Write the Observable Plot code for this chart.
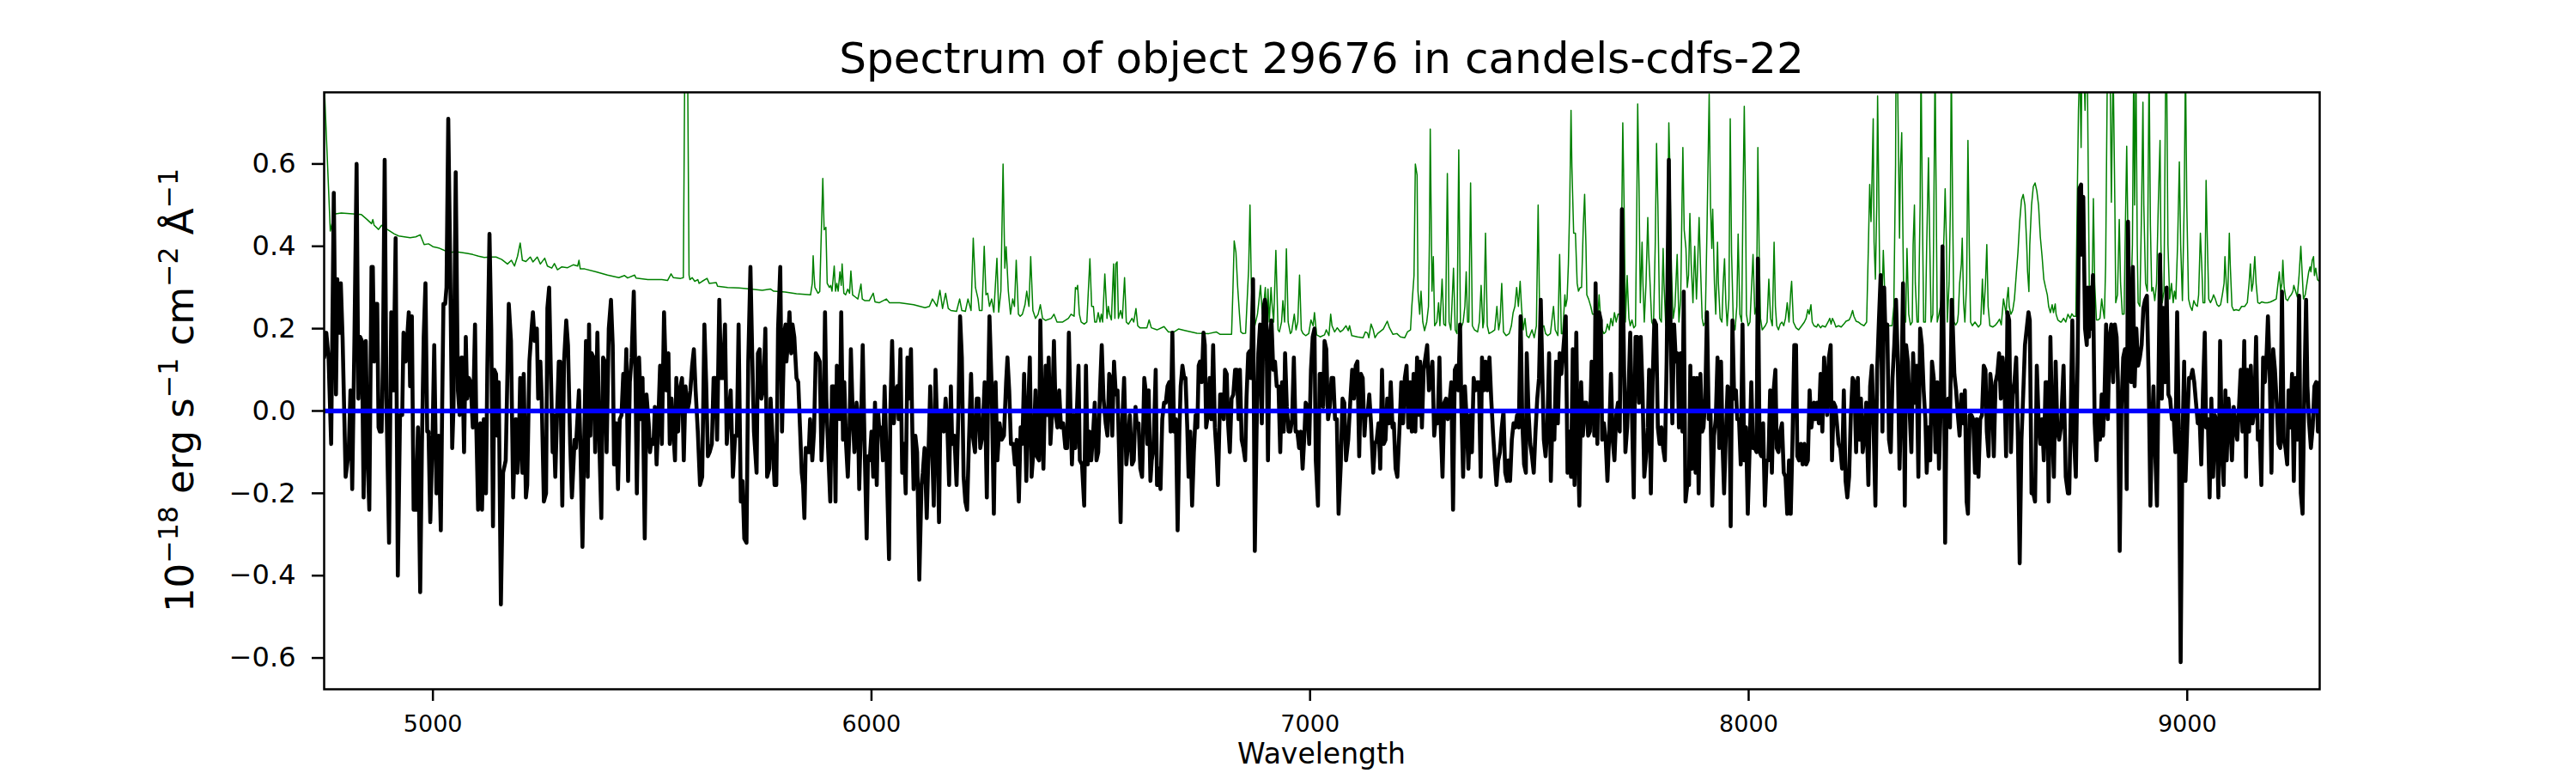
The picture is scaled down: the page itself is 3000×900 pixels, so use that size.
<!DOCTYPE html>
<html><head><meta charset="utf-8">
<script src="https://cdn.jsdelivr.net/npm/d3@7"></script>
<script src="https://cdn.jsdelivr.net/npm/@observablehq/plot@0.6"></script>
<style>html,body{margin:0;padding:0;background:#fff;} #chart{width:3000px;height:900px;}</style>
</head><body><div id="chart"></div>
<script>
// Observed flux (black), [wavelength, flux]
const fluxSpectrum = [
[4752,.13],[4757,.19],[4762,.13],[4768,-.08],[4774,.53],[4777,.22],[4779,.04],[4782,.32],[4786,.19],[4790,.31],
[4794,.18],[4801,-.16],[4808,-.10],[4812,.05],[4816,-.19],[4821,.17],[4826,.60],[4830,.03],[4834,.18],[4838,.17],
[4842,-.21],[4847,.17],[4851,-.11],[4855,-.24],[4860,.35],[4863,.35],[4866,.12],[4870,.26],[4873,.26],[4876,-.04],
[4879,-.05],[4883,-.05],[4886,.12],[4890,.61],[4894,.03],[4900,-.32],[4905,.24],[4910,.05],[4915,.42],[4920,-.40],
[4925,-.01],[4930,-.01],[4933,.19],[4938,.12],[4945,.24],[4948,.06],[4952,.23],[4956,-.24],[4961,-.24],[4966,-.04],
[4971,-.44],[4975,-.08],[4979,.18],[4983,.31],[4987,-.05],[4990,-.05],[4994,-.27],[4999,-.07],[5003,.16],[5008,-.20],
[5013,-.06],[5018,-.29],[5021,.00],[5024,.26],[5028,.26],[5031,.30],[5035,.71],[5039,.39],[5044,-.09],[5047,.01],
[5052,.58],[5057,.05],[5061,-.01],[5065,.13],[5067,.13],[5071,-.10],[5075,.18],[5078,.03],[5082,.08],[5086,.07],
[5091,-.04],[5096,.21],[5099,-.04],[5103,-.24],[5108,-.03],[5112,-.24],[5116,-.02],[5121,-.20],[5124,.10],[5129,.43],
[5133,.20],[5137,-.28],[5140,.10],[5144,.09],[5147,-.06],[5150,.07],[5155,-.47],[5160,-.15],[5166,-.12],[5173,.26],
[5178,.17],[5183,-.21],[5187,-.07],[5189,-.02],[5193,-.15],[5196,-.08],[5199,.08],[5204,-.15],[5207,.09],[5212,-.21],
[5215,-.18],[5220,.12],[5225,.20],[5228,.24],[5232,.17],[5237,.20],[5240,.03],[5245,.12],[5248,.03],[5253,-.22],
[5258,-.20],[5261,.25],[5265,.30],[5269,.09],[5273,-.10],[5275,-.01],[5279,-.16],[5283,-.01],[5287,.12],[5290,.12],
[5295,-.23],[5299,.12],[5304,.22],[5308,.16],[5313,-.08],[5317,-.21],[5323,-.07],
[5326,-.09],[5333,.05],[5336,-.07],[5341,-.33],[5345,-.07],[5349,.17],[5353,-.16],[5356,.21],[5359,-.06],[5362,.14],
[5366,.13],[5370,-.10],[5375,.19],[5380,-.10],[5384,-.26],[5388,.13],[5392,.12],[5396,-.10],[5401,.20],[5406,.27],
[5410,.16],[5413,-.13],[5418,-.03],[5422,-.19],[5426,-.02],[5430,-.01],[5434,.09],[5437,.00],[5441,.15],[5445,-.17],
[5449,.07],[5453,.13],[5458,.29],[5462,.07],[5465,-.20],[5470,.13],[5475,-.02],[5478,.08],[5483,-.31],[5487,.04],
[5492,-.03],[5495,-.10],[5498,-.07],[5503,-.08],[5506,.01],[5510,-.13],[5514,-.02],[5518,.11],[5522,-.08],[5527,.24],
[5532,.05],[5537,.14],[5540,-.08],[5544,.03],[5547,-.03],[5552,-.12],[5555,.08],[5559,-.05],[5563,.05],[5568,.08],
[5572,-.12],[5576,.06],[5580,.00],[5584,.02],[5587,.05],[5591,.11],[5595,.15],[5599,.05],[5604,-.05],[5609,-.18],
[5614,-.16],[5619,.21],[5623,.07],[5627,-.11],[5631,-.10],[5636,-.08],[5640,.08],[5644,.08],[5648,-.07],[5653,.27],
[5657,.08],[5661,.08],[5666,.21],[5670,-.08],[5674,-.01],[5679,.05],[5684,-.16],[5689,-.06],[5693,-.06],[5697,.21],
[5702,-.22],[5706,-.17],[5710,-.31],[5715,-.32],[5719,.12],[5724,.35],[5728,.14],[5732,-.05],[5738,-.15],[5741,.14],
[5745,.15],[5749,.03],[5754,.06],[5758,.20],[5762,-.16],[5767,-.14],[5770,.03],[5775,-.08],[5779,-.18],[5783,-.18],
[5787,.20],[5792,.35],[5796,-.05],[5801,.19],[5804,.21],[5806,.12],[5809,.16],[5813,.24],[5817,.14],[5820,.21],
[5824,.18],[5829,.08],[5833,.07],[5837,-.04],[5841,-.15],[5844,-.18],[5847,-.26],[5850,-.09],[5854,-.10],[5857,-.10],
[5860,-.02],[5865,-.12],[5869,-.05],[5873,.14],
[5878,.13],[5882,.12],[5886,-.12],[5891,.00],[5894,.24],[5897,.03],[5901,-.09],[5906,-.22],[5910,.06],[5914,.06],
[5918,-.22],[5921,.11],[5925,.08],[5928,-.02],[5931,.24],[5935,-.07],[5938,.07],[5942,-.08],[5946,-.16],[5950,-.04],
[5953,.15],[5957,.00],[5961,-.10],[5966,.02],[5969,-.01],[5972,-.19],[5977,.01],[5980,.16],[5984,-.07],[5989,-.31],
[5992,-.11],[5996,-.12],[6000,-.05],[6004,-.16],[6008,.02],[6012,-.18],[6015,.00],[6018,-.05],[6022,-.04],[6026,-.12],
[6030,.06],[6034,-.10],[6040,-.36],[6043,.00],[6047,.17],[6051,-.03],[6055,.05],[6059,.06],[6062,-.02],[6066,.15],
[6070,-.15],[6074,-.08],[6078,-.20],[6082,.13],[6085,.03],[6090,.15],[6093,-.04],[6096,-.19],[6100,-.06],[6104,-.10],
[6109,-.41],[6114,-.18],[6117,-.15],[6121,-.09],[6126,-.26],[6130,-.10],[6134,.06],[6138,-.08],[6142,-.23],[6146,.10],
[6150,-.05],[6154,-.27],[6157,-.01],[6160,.00],[6165,-.05],[6169,.03],[6173,-.04],[6177,-.18],[6181,.06],[6184,-.08],
[6189,-.06],[6194,-.18],[6198,-.01],[6202,.23],[6206,.13],[6210,-.16],[6214,-.22],[6218,-.24],[6222,-.08],[6227,.09],
[6231,-.06],[6236,-.10],[6240,.03],[6244,.03],[6248,-.09],[6253,-.06],[6258,.07],[6263,-.21],[6266,.05],[6269,.23],
[6274,.06],[6279,-.25],[6283,.07],[6287,-.12],[6292,-.03],[6297,-.07],[6302,-.06],[6307,.07],[6310,.13],[6314,.05],
[6318,-.08],[6323,-.08],[6327,-.13],[6331,-.07],[6336,-.22],[6340,-.04],[6344,-.08],[6348,.09],[6353,-.17],[6357,.00],
[6361,.13],[6365,-.16],[6369,-.10],[6374,.05],[6377,-.11],[6382,-.12],[6385,.22],[6389,-.02],[6392,-.14],[6397,.11],
[6401,-.01],[6404,.13],[6408,-.08],[6412,.00],[6416,.17],[6420,-.01],[6424,-.04],[6428,.05],[6432,-.04],[6437,-.03],
[6442,-.09],
[6446,-.09],[6450,.19],[6454,-.01],[6457,-.13],[6461,-.01],[6465,-.09],[6468,-.01],[6472,.11],[6475,-.12],[6480,-.13],
[6485,-.23],[6489,.11],[6493,-.13],[6497,-.05],[6501,-.12],[6505,-.06],[6509,.02],[6513,-.12],[6517,-.10],[6521,.05],
[6525,.16],[6529,.03],[6534,-.03],[6538,-.06],[6542,.09],[6545,.08],[6549,-.06],[6553,.12],[6557,.04],[6561,.05],
[6564,-.08],[6568,-.27],[6572,-.02],[6576,.08],[6581,-.13],[6585,-.08],[6589,-.01],[6594,-.13],[6598,-.12],[6602,.01],
[6605,-.04],[6609,-.03],[6613,-.14],[6617,-.16],[6622,.08],[6625,.05],[6629,-.08],[6632,.05],[6636,-.17],[6639,-.12],
[6643,-.09],[6648,.10],[6651,-.18],[6655,-.14],[6659,-.19],[6663,-.02],[6667,.02],[6671,.02],[6675,.06],[6679,.07],
[6682,-.05],[6686,.19],[6690,-.05],[6694,-.02],[6698,-.29],[6702,-.05],[6705,.06],[6709,.11],[6713,.08],[6716,.08],
[6720,-.04],[6723,-.16],[6727,-.05],[6731,-.23],[6735,-.10],[6739,-.01],[6743,-.04],[6746,.11],[6749,.12],[6753,.07],
[6757,.19],[6760,.16],[6763,-.04],[6767,-.01],[6771,.08],[6775,-.02],[6779,.16],[6783,-.04],[6787,-.11],[6790,-.18],
[6795,.04],[6799,.04],[6803,-.02],[6806,.10],[6810,.09],[6813,-.03],[6817,-.10],[6821,.03],[6825,.04],[6829,.10],
[6833,.10],[6837,-.02],[6840,.10],[6844,-.07],[6848,-.09],[6852,-.12],[6855,.03],[6859,.14],[6862,.145],[6865,.08],
[6870,.32],[6874,-.34],[6878,-.05],[6882,.14],[6886,.21],[6890,-.03],[6894,.25],[6897,.27],[6900,.25],[6904,-.12],
[6908,.18],[6912,.22],[6916,.10],[6920,.12],[6924,.06],[6928,.06],[6932,-.10],[6936,.07],[6940,-.05],[6943,.14],
[6947,.01],[6951,-.05],[6955,-.05],[6959,-.02],[6963,.13],[6967,-.05],[6971,-.05],[6975,-.09],[6979,-.05],[6983,-.14],
[6987,-.06],[6990,.02],[6994,.01],[6998,-.08],[7002,.10],[7006,.18],[7010,.20],
[7013,-.12],[7018,-.23],[7022,.09],[7026,.09],[7030,.01],[7033,.17],[7037,.15],[7041,-.02],[7045,.01],[7049,.08],
[7053,.08],[7057,-.02],[7061,-.02],[7065,-.25],[7070,-.13],[7074,.03],[7078,.02],[7082,-.12],[7087,-.07],[7092,.03],
[7096,.10],[7100,.03],[7104,.11],[7108,.12],[7112,-.11],[7116,.09],[7120,.08],[7124,-.06],[7127,-.005],[7131,-.01],
[7135,.04],[7139,-.03],[7144,-.15],[7148,-.08],[7152,-.07],[7156,-.03],[7160,-.14],[7164,.10],[7168,-.08],[7172,-.07],
[7176,.03],[7180,-.03],[7184,.07],[7188,-.04],[7191,-.03],[7195,-.14],[7199,-.16],[7204,-.04],[7208,.07],[7212,-.03],
[7216,.08],[7220,.11],[7224,-.04],[7228,.07],[7232,-.05],[7236,.09],[7240,-.05],[7244,.13],[7248,-.01],[7251,.12],
[7255,-.04],[7259,.10],[7263,.13],[7267,.16],[7271,.05],[7275,.08],[7279,.12],[7283,-.06],[7287,-.01],[7291,-.03],
[7295,.13],[7298,-.04],[7302,-.16],[7306,.02],[7310,.03],[7314,-.02],[7318,.02],[7322,.07],[7326,-.24],[7330,.10],
[7334,.11],[7338,.05],[7342,.21],[7345,.01],[7349,-.16],[7353,.06],[7357,-.02],[7361,-.14],[7365,-.01],[7369,-.10],
[7373,.08],[7377,.05],[7381,.07],[7385,.07],[7389,-.16],[7392,.13],[7396,.05],[7400,.12],[7404,.05],[7409,.13],
[7413,.03],[7417,-.05],[7421,-.12],[7425,-.18],[7429,-.12],[7433,-.10],[7437,-.04],[7441,.00],[7445,-.15],[7449,-.17],
[7452,-.12],[7456,-.17],[7460,-.07],[7464,-.03],[7468,-.04],[7472,-.01],[7476,-.04],[7480,.23],[7484,-.03],[7488,-.13],
[7492,-.15],[7494,.14],[7498,.00],[7502,-.08],[7506,-.11],[7510,-.15],[7514,-.05],[7518,.03],[7522,.08],[7526,.27],
[7529,.12],[7533,-.07],[7537,-.11],[7541,-.04],[7545,.14],[7549,-.17],[7553,.00],[7557,-.07],[7561,.12],[7565,-.03],
[7569,.14],[7573,.09],[7576,.13],
[7583,.23],[7587,-.15],[7591,-.05],[7595,-.16],[7599,.15],[7603,-.18],[7607,.19],[7610,-.05],[7614,-.23],[7618,.07],
[7622,-.06],[7626,.02],[7630,.02],[7634,-.06],[7638,-.05],[7642,.12],[7646,.03],[7648,-.06],[7651,.31],[7655,-.08],
[7659,.24],[7663,.22],[7666,-.07],[7670,-.03],[7674,-.07],[7678,-.17],[7682,-.06],[7686,.09],[7690,-.07],[7694,-.12],
[7698,-.01],[7702,.02],[7706,-.05],[7711,.49],[7715,.17],[7719,-.10],[7723,-.04],[7727,.08],[7730,.19],[7734,-.01],
[7738,-.21],[7742,.18],[7746,.18],[7750,.02],[7754,.18],[7758,.05],[7762,-.16],[7766,-.11],[7770,-.04],[7773,.10],
[7777,-.20],[7781,.07],[7785,.22],[7789,.21],[7793,-.04],[7797,-.08],[7801,-.04],[7805,-.09],[7809,-.12],[7813,.12],
[7818,.61],[7822,.20],[7826,-.03],[7830,.21],[7834,.12],[7838,.14],[7841,-.04],[7845,.14],[7849,-.05],[7852,.29],
[7856,-.22],[7860,-.18],[7864,-.18],[7867,.11],[7871,-.14],[7875,.08],[7879,-.15],[7882,.08],[7886,-.20],[7890,.09],
[7894,-.05],[7897,-.04],[7901,.03],[7905,.24],[7909,-.02],[7913,.00],[7917,-.23],[7921,-.06],[7925,-.02],[7929,.13],
[7933,-.09],[7937,.12],[7941,-.10],[7944,-.20],[7948,-.06],[7952,.06],[7956,.05],[7959,-.28],[7963,.22],[7967,.03],
[7971,.05],[7974,-.02],[7978,-.02],[7982,-.13],[7986,.21],[7990,-.12],[7994,-.04],[7998,-.25],[8002,-.10],[8006,.07],
[8010,-.09],[8014,-.09],[8018,-.10],[8021,.37],[8025,-.10],[8029,-.11],[8033,-.03],[8037,-.23],[8041,-.12],[8045,-.12],
[8049,.05],[8053,-.15],[8057,.05],[8061,.10],[8064,-.09],[8068,-.10],[8072,-.05],[8076,-.03],[8080,-.15],[8084,-.16],
[8088,-.25],[8092,-.12],[8096,-.25],[8100,-.07],[8104,.16],[8108,.16],[8111,-.11],[8115,-.12],[8119,-.08],[8123,-.13],
[8127,-.08],[8131,-.13],[8135,-.12],[8139,.05],[8143,-.04],
[8149,.02],[8152,-.02],[8156,.02],[8160,-.03],[8164,.09],[8168,-.05],[8172,.13],[8175,.08],[8179,-.01],[8183,.13],
[8187,.16],[8190,-.12],[8194,.02],[8198,.01],[8202,-.04],[8205,-.08],[8209,-.09],[8213,-.14],[8217,.05],[8221,-.17],
[8225,-.21],[8229,-.16],[8233,-.01],[8237,.08],[8241,.07],[8245,-.10],[8249,.08],[8252,-.07],[8256,.03],[8260,-.10],
[8264,-.06],[8268,.02],[8273,-.18],[8277,.06],[8281,.11],[8285,-.05],[8289,-.23],[8293,.10],[8297,.22],[8301,.33],
[8305,-.05],[8309,.30],[8312,.18],[8316,.21],[8320,-.07],[8324,-.10],[8328,.08],[8332,.16],[8336,.27],[8340,.12],
[8344,-.14],[8348,.03],[8352,.31],[8356,-.23],[8359,.16],[8363,.12],[8367,.00],[8371,-.10],[8375,.14],[8379,.02],
[8383,.11],[8387,-.16],[8391,.20],[8395,.16],[8399,.05],[8403,-.02],[8406,-.15],[8410,-.04],[8414,-.12],[8418,.12],
[8422,.08],[8426,-.10],[8430,.07],[8434,-.14],[8438,.01],[8442,.40],[8446,.04],[8448,-.32],[8451,-.01],[8455,.03],
[8459,-.04],[8463,.27],[8465,.22],[8469,.09],[8473,.05],[8477,-.01],[8481,-.06],[8485,.04],[8489,-.03],[8493,.05],
[8497,-.22],[8500,-.25],[8504,-.01],[8508,-.01],[8512,-.02],[8516,-.15],[8520,-.02],[8524,-.16],[8528,-.02],[8532,-.01],
[8536,.11],[8540,.10],[8543,-.05],[8547,-.11],[8551,.09],[8555,.05],[8559,-.11],[8563,.07],[8567,.09],[8571,.14],
[8575,.03],[8579,.13],[8583,.08],[8587,-.11],[8590,.24],[8594,.22],[8598,-.10],[8602,.04],[8606,.07],[8610,.13],
[8614,-.07],[8618,-.37],[8622,-.07],[8626,.04],[8630,.16],[8634,.20],[8638,.24],[8641,.22],[8645,-.20],[8649,-.20],
[8653,-.22],[8657,.11],[8661,-.02],[8665,-.08],[8669,-.02],[8673,-.12],[8677,.07],[8681,.07],[8684,-.22],[8688,.18],
[8692,-.04],[8696,-.16],[8700,.12],[8704,-.05],[8708,-.07],[8712,-.04],
[8718,.11],[8723,-.16],[8728,-.20],[8731,-.20],[8735,.03],[8738,.22],[8742,-.07],[8746,-.16],[8750,.12],[8754,.54],
[8758,.55],[8760,.38],[8763,.52],[8767,.20],[8771,.16],[8773,.30],[8776,.18],[8779,.30],[8781,.20],[8785,.33],
[8789,-.03],[8793,-.12],[8797,.00],[8801,-.07],[8805,.04],[8808,-.06],[8811,.02],[8815,.21],[8819,-.02],[8823,.18],
[8827,.21],[8831,.07],[8835,.21],[8839,.18],[8842,.07],[8846,-.34],[8850,.01],[8854,.13],[8858,.15],[8862,-.19],
[8865,.46],[8869,.12],[8872,.07],[8876,.35],[8880,.06],[8884,.20],[8888,.11],[8892,.13],[8896,.16],[8900,.25],
[8904,.27],[8908,.28],[8912,.08],[8916,-.23],[8919,-.07],[8923,.06],[8927,-.10],[8931,-.23],[8935,.12],[8938,.38],
[8942,.03],[8946,.25],[8949,.07],[8953,.30],[8957,.04],[8961,.03],[8965,-.02],[8969,-.01],[8973,-.10],[8977,.24],
[8981,-.07],[8985,-.61],[8989,-.08],[8993,.12],[8996,-.17],[9000,-.04],[9004,.08],[9008,.08],[9012,.10],[9016,.07],
[9020,.02],[9024,-.03],[9028,-.01],[9032,-.13],[9036,.05],[9040,.19],[9043,-.04],[9047,-.02],[9051,-.21],[9055,.03],
[9059,-.16],[9063,-.01],[9067,-.03],[9071,-.21],[9075,.17],[9079,-.09],[9083,-.18],[9087,.05],[9090,-.12],[9094,.03],
[9098,-.03],[9102,-.12],[9106,.01],[9110,-.04],[9114,-.07],[9118,.01],[9122,.10],[9126,-.05],[9130,.17],[9134,-.16],
[9137,.10],[9141,-.05],[9145,.11],[9149,-.03],[9153,.00],[9157,.18],[9161,-.07],[9165,-.05],[9169,-.18],[9173,.13],
[9177,.07],[9181,.14],[9184,.23],[9188,.10],[9192,-.15],[9196,.15],[9200,.10],[9204,.02],[9208,-.08],[9212,-.09],
[9216,.29],[9220,-.07],[9224,-.09],[9228,-.13],[9231,.05],[9235,-.04],[9239,.09],[9243,-.17],[9247,.08],[9251,-.07],
[9255,.28],[9259,-.20],[9263,-.25],[9267,.05],[9271,.27],[9274,.06],[9278,-.03],[9282,-.09],[9286,-.04],[9290,.06],
[9294,.07],[9298,-.05],[9302,.07]
];

// Noise / error spectrum (green), [wavelength, sigma]
const errorSpectrum = [
[4752,.80],[4766,.437],[4773,.47],[4778,.479],[4791,.481],[4817,.479],[4837,.477],[4850,.465],[4860,.455],[4863,.465],
[4866,.451],[4876,.441],[4883,.451],[4896,.441],[4912,.43],[4922,.425],[4935,.423],[4948,.421],[4961,.423],[4971,.428],
[4980,.404],[4990,.406],[5000,.399],[5013,.396],[5026,.39],[5039,.385],[5052,.387],[5065,.385],[5078,.383],[5091,.38],
[5104,.376],[5117,.373],[5131,.374],[5144,.374],[5157,.368],[5170,.357],[5179,.366],[5186,.352],[5193,.376],[5199,.408],
[5204,.366],[5212,.363],[5222,.374],[5228,.362],[5238,.374],[5245,.357],[5255,.371],[5261,.352],[5271,.347],[5277,.358],
[5284,.343],[5294,.35],[5307,.348],
[5320,.355],[5330,.352],[5333,.366],[5336,.345],[5346,.345],[5372,.338],[5398,.33],[5424,.324],[5437,.329],[5444,.323],
[5460,.330],[5463,.323],[5490,.319],[5522,.319],[5535,.317],[5543,.333],[5548,.324],[5565,.322],[5571,.324],[5574,.80],
[5576,1.2],[5578,1.2],[5581,.80],[5584,.33],[5586,.319],[5591,.324],[5597,.315],[5604,.319],[5607,.310],[5614,.315],
[5625,.322],[5630,.31],[5646,.312],[5649,.303],[5672,.30],[5698,.299],[5724,.296],[5751,.293],[5770,.296],[5777,.291],
[5803,.289],[5829,.285],[5861,.282],[5865,.31],[5867,.377],[5869,.33],[5871,.30],[5878,.286],[5882,.29],[5886,.45],
[5889,.565],[5892,.44],
[5896,.446],[5899,.31],[5904,.300],[5907,.305],[5910,.291],[5915,.352],[5918,.291],[5921,.31],[5924,.291],[5928,.338],
[5931,.305],[5933,.357],[5937,.286],[5941,.282],[5946,.296],[5950,.286],[5953,.34],[5957,.282],[5963,.277],[5969,.272],
[5976,.308],[5979,.272],[5985,.268],[5995,.268],[6004,.286],[6008,.265],[6018,.263],[6034,.272],[6041,.263],[6064,.263],
[6096,.258],[6122,.251],[6132,.254],[6139,.272],[6143,.265],[6149,.254],[6156,.293],[6162,.249],[6169,.286],[6175,.249],
[6181,.244],[6194,.242],[6201,.272],[6206,.244],[6214,.242],[6220,.272],[6227,.244],[6232,.42],[6237,.30],[6243,.272],
[6246,.244],[6252,.244],[6257,.40],[6261,.282],[6265,.286],[6269,.254],[6274,.272],[6279,.24],[6286,.371],[6290,.24],
[6295,.291],[6300,.60],[6304,.347],[6307,.399],[6312,.291],[6317,.235],[6322,.272],[6326,.254],[6330,.366],[6335,.235],
[6339,.23],[6344,.235],[6350,.258],[6354,.291],[6359,.254],[6363,.375],[6368,.244],[6374,.225],[6380,.235],[6385,.258],
[6390,.225],[6397,.22],[6410,.225],[6416,.235],[6423,.216],[6436,.216],[6449,.225],
[6455,.235],[6462,.23],[6465,.30],[6468,.296],[6470,.305],[6474,.235],[6478,.216],[6485,.211],[6491,.216],[6498,.37],
[6502,.254],[6506,.254],[6509,.216],[6513,.216],[6517,.239],[6521,.216],[6524,.235],[6527,.216],[6532,.333],[6537,.225],
[6540,.254],[6543,.235],[6547,.221],[6552,.357],[6555,.225],[6557,.357],[6560,.362],[6563,.225],[6568,.244],[6572,.225],
[6577,.324],[6581,.216],[6586,.211],[6594,.225],[6598,.216],[6603,.249],[6607,.207],[6612,.202],[6628,.202],[6633,.221],
[6638,.202],[6651,.197],[6667,.205],[6677,.192],[6690,.192],[6700,.199],[6716,.195],[6729,.192],[6742,.189],[6769,.188],
[6786,.192],[6795,.186],[6821,.186],[6824,.291],[6827,.413],[6831,.385],[6835,.30],[6839,.235],[6842,.192],[6847,.188],
[6853,.189],[6860,.347],[6863,.50],[6866,.31],[6870,.216],[6874,.207],[6880,.235],[6883,.263],[6887,.305],[6891,.235],
[6894,.254],[6898,.30],[6901,.207],[6904,.296],[6907,.216],[6911,.30],[6913,.263],[6917,.216],[6922,.39],[6927,.197],
[6930,.192],[6935,.216],[6938,.268],[6942,.216],[6946,.394],[6950,.216],[6955,.188],[6958,.192],[6964,.235],[6968,.197],
[6972,.216],[6976,.33],[6980,.197],[6984,.188],[6990,.183],[6997,.188],[7002,.221],[7007,.207],[7010,.239],
[7015,.185],[7023,.180],[7033,.185],[7037,.197],[7043,.183],[7047,.235],[7050,.207],[7056,.192],[7062,.202],[7069,.192],
[7075,.197],[7082,.207],[7087,.195],[7090,.207],[7095,.183],[7108,.18],[7121,.178],[7126,.192],[7131,.189],[7134,.178],
[7139,.211],[7144,.197],[7148,.178],[7154,.188],[7167,.199],[7176,.218],[7181,.202],[7189,.186],[7198,.188],[7206,.180],
[7216,.178],[7222,.192],[7229,.197],[7232,.254],[7237,.329],[7240,.60],[7244,.573],[7246,.291],[7250,.235],[7253,.291],
[7257,.216],[7261,.195],[7266,.216],[7270,.254],[7272,.408],[7274,.685],[7278,.291],[7281,.375],[7284,.207],[7289,.216],
[7293,.263],[7296,.207],[7301,.32],[7305,.211],[7309,.207],[7313,.577],[7317,.216],[7321,.197],[7323,.244],[7327,.347],
[7331,.197],[7335,.188],[7339,.634],[7343,.197],[7349,.216],[7353,.254],[7356,.338],[7359,.216],[7362,.216],[7366,.554],
[7370,.207],[7375,.197],[7382,.192],[7386,.216],[7390,.305],[7394,.202],[7396,.216],[7400,.432],[7404,.207],[7408,.188],
[7415,.192],[7421,.197],[7426,.254],[7430,.197],[7433,.216],[7437,.31],[7441,.192],[7447,.183],[7454,.188],[7459,.207],
[7463,.239],[7467,.254],[7471,.30],[7475,.254],[7479,.315],[7482,.254],[7486,.197],[7490,.225],[7494,.183],[7499,.178],
[7506,.197],[7511,.178],[7516,.207],[7520,.50],[7524,.188],[7529,.202],[7533,.207],[7537,.188],[7542,.183],[7548,.188],
[7555,.254],[7559,.197],[7565,.183],[7569,.38],[7573,.188],[7576,.188],
[7581,.282],[7583,.254],[7586,.272],[7589,.357],[7592,.50],[7595,.73],[7597,.592],[7601,.432],[7605,.432],[7609,.31],
[7612,.291],[7616,.30],[7619,.30],[7623,.451],[7626,.526],[7629,.404],[7631,.282],[7635,.272],[7640,.254],[7644,.235],
[7648,.235],[7652,.216],[7656,.225],[7659,.282],[7663,.216],[7666,.197],[7670,.188],[7674,.192],[7678,.211],[7682,.197],
[7686,.225],[7690,.207],[7694,.239],[7698,.216],[7702,.235],[7707,.235],[7711,.50],[7713,.70],[7716,.50],[7719,.216],
[7723,.329],[7727,.225],[7730,.207],[7734,.221],[7738,.202],[7742,.207],[7745,.50],[7747,.746],[7750,.545],[7753,.263],
[7757,.41],[7759,.31],[7762,.216],[7766,.31],[7770,.47],[7772,.385],[7775,.315],[7779,.216],[7783,.207],[7787,.404],
[7790,.65],[7793,.50],[7797,.225],[7801,.216],[7805,.395],[7807,.31],[7811,.207],[7815,.413],[7818,.70],[7820,.61],
[7824,.338],[7828,.225],[7832,.254],[7837,.38],[7841,.216],[7845,.272],[7848,.50],[7850,.64],[7853,.44],[7857,.395],
[7860,.30],[7863,.33],[7866,.48],[7869,.357],[7873,.263],[7877,.40],[7881,.272],[7883,.33],[7887,.47],[7890,.357],
[7894,.225],[7897,.207],[7901,.216],[7905,.44],[7908,.64],[7910,.77],[7913,.50],[7916,.395],[7918,.49],[7922,.31],
[7925,.235],[7929,.41],[7931,.31],[7935,.225],[7939,.216],[7942,.31],[7945,.37],[7948,.263],[7951,.207],[7955,.272],
[7958,.71],[7961,.385],[7965,.216],[7969,.197],[7973,.254],[7976,.43],[7980,.235],[7984,.216],[7987,.50],[7990,.74],
[7993,.50],[7995,.235],[7999,.207],[8003,.216],[8007,.31],[8010,.38],[8014,.235],[8018,.254],[8021,.64],[8024,.385],
[8027,.225],[8031,.197],[8038,.207],[8042,.216],[8046,.32],[8050,.225],[8054,.207],[8058,.41],[8061,.254],[8064,.207],
[8068,.197],[8072,.211],[8076,.216],[8080,.207],[8084,.225],[8088,.263],[8092,.216],[8096,.291],[8098,.315],[8102,.216],
[8108,.202],[8114,.197],[8121,.207],[8127,.216],[8131,.225],[8135,.246],[8138,.235],[8142,.258],[8145,.216],
[8149,.207],[8155,.204],[8158,.211],[8164,.202],[8168,.207],[8175,.204],[8181,.216],[8185,.225],[8188,.211],[8191,.225],
[8195,.216],[8199,.204],[8205,.207],[8211,.204],[8217,.211],[8222,.218],[8229,.221],[8233,.230],[8237,.244],[8240,.230],
[8245,.218],[8250,.216],[8256,.211],[8263,.207],[8269,.216],[8273,.40],[8276,.55],[8279,.46],[8281,.55],[8284,.71],
[8286,.41],[8289,.32],[8292,.50],[8294,.765],[8297,.50],[8299,.31],[8303,.216],[8307,.39],[8309,.33],[8312,.216],
[8316,.207],[8322,.207],[8327,.207],[8331,.254],[8335,.60],[8336,.85],[8339,.85],[8341,.685],[8344,.42],[8346,.59],
[8349,.676],[8352,.404],[8354,.235],[8358,.216],[8361,.395],[8365,.235],[8369,.209],[8373,.216],[8375,.404],[8378,.50],
[8380,.31],[8384,.216],[8387,.216],[8391,.50],[8393,.85],[8396,.50],[8399,.216],[8403,.216],[8406,.404],[8410,.615],
[8413,.404],[8416,.216],[8420,.235],[8422,.45],[8425,.85],[8427,.59],[8430,.216],[8434,.235],[8438,.258],[8442,.31],
[8446,.45],[8448,.54],[8451,.404],[8453,.216],[8457,.31],[8460,.50],[8462,.85],[8465,.50],[8468,.216],[8472,.209],
[8476,.216],[8478,.235],[8481,.31],[8485,.357],[8487,.42],[8490,.263],[8493,.216],[8497,.31],[8500,.657],[8503,.404],
[8506,.216],[8510,.207],[8516,.216],[8524,.204],[8529,.211],[8533,.32],[8536,.235],[8540,.31],[8543,.404],[8546,.254],
[8550,.207],[8557,.204],[8563,.209],[8568,.216],[8572,.223],[8576,.209],[8581,.272],[8584,.254],[8587,.235],[8589,.272],
[8592,.30],[8594,.254],[8598,.235],[8602,.244],[8606,.272],[8610,.329],[8614,.385],[8618,.46],[8622,.512],[8626,.526],
[8630,.50],[8634,.404],[8636,.338],[8639,.29],[8641,.404],[8645,.50],[8649,.545],[8653,.554],[8657,.535],[8661,.50],
[8665,.423],[8669,.376],[8673,.32],[8677,.30],[8681,.282],[8684,.254],[8688,.239],[8692,.258],[8695,.239],[8699,.26],
[8701,.235],[8705,.221],[8711,.216],
[8713,.216],[8718,.225],[8723,.216],[8728,.235],[8733,.225],[8737,.236],[8741,.230],[8746,.230],[8749,.50],[8752,.73],
[8755,.85],[8758,.64],[8760,.85],[8764,.85],[8767,.73],[8769,.85],[8772,.85],[8775,.50],[8777,.254],[8781,.225],
[8784,.357],[8786,.516],[8789,.31],[8793,.221],[8797,.221],[8801,.225],[8805,.272],[8807,.254],[8811,.225],[8814,.357],
[8818,.85],[8821,.85],[8824,.85],[8827,.507],[8831,.85],[8835,.50],[8837,.263],[8841,.282],[8845,.465],[8848,.31],
[8852,.235],[8856,.235],[8859,.45],[8862,.643],[8865,.404],[8867,.244],[8871,.239],[8875,.404],[8878,.85],[8880,.50],
[8883,.85],[8886,.404],[8888,.263],[8892,.254],[8896,.50],[8899,.75],[8901,.50],[8905,.31],[8909,.291],[8913,.85],
[8916,.451],[8919,.291],[8922,.30],[8926,.268],[8930,.31],[8934,.50],[8938,.657],[8940,.404],[8943,.263],[8947,.291],
[8951,.85],[8953,.85],[8956,.404],[8960,.272],[8964,.31],[8968,.263],[8971,.291],[8974,.272],[8978,.404],[8982,.605],
[8985,.404],[8989,.268],[8993,.50],[8996,.85],[8999,.50],[9003,.272],[9007,.254],[9011,.244],[9015,.268],[9019,.258],
[9023,.254],[9026,.282],[9030,.432],[9033,.357],[9036,.263],[9040,.263],[9043,.56],[9046,.404],[9049,.272],[9053,.263],
[9057,.272],[9060,.282],[9064,.272],[9068,.258],[9072,.254],[9076,.258],[9080,.282],[9084,.31],[9086,.375],[9089,.31],
[9092,.263],[9096,.432],[9098,.357],[9102,.254],[9106,.244],[9111,.246],[9118,.244],[9124,.254],[9131,.254],[9137,.263],
[9141,.31],[9144,.357],[9147,.291],[9150,.31],[9154,.375],[9157,.31],[9161,.263],[9165,.261],[9170,.265],[9177,.263],
[9183,.263],[9190,.265],[9196,.268],[9203,.272],[9207,.31],[9210,.338],[9213,.291],[9216,.31],[9218,.366],[9221,.30],
[9225,.272],[9229,.268],[9233,.277],[9237,.282],[9241,.291],[9243,.305],[9247,.291],[9251,.277],[9255,.329],[9259,.40],
[9261,.357],[9265,.272],[9269,.282],[9273,.31],[9277,.338],[9280,.35],[9282,.338],[9285,.366],[9288,.375],[9290,.329],
[9293,.347],[9297,.319],[9301,.315]
];

const modelLevel = [0];
const xDomain = [4752, 9302];
const yDomain = [-0.676, 0.774];
const xTicks = [5000, 6000, 7000, 8000, 9000];
const yTicks = [-0.6, -0.4, -0.2, 0, 0.2, 0.4, 0.6];
const titleText = "Spectrum of object 29676 in candels-cdfs-22";
const xLabelText = "Wavelength";

const W = 3000, H = 900, ML = 377, MR = 299, MT = 107, MB = 98;

const chart = Plot.plot({
  width: W, height: H,
  marginLeft: ML, marginRight: MR, marginTop: MT, marginBottom: MB,
  style: {fontFamily: "DejaVu Sans", background: "white", color: "black", overflow: "visible"},
  x: {domain: xDomain},
  y: {domain: yDomain},
  marks: [
    Plot.line(errorSpectrum, {x: d => d[0], y: d => d[1], stroke: "#008000", strokeWidth: 1.5, clip: true}),
    Plot.line(fluxSpectrum, {x: d => d[0], y: d => d[1], stroke: "black", strokeWidth: 4.6, strokeLinejoin: "round", clip: true}),
    Plot.ruleY(modelLevel, {stroke: "blue", strokeWidth: 5.5}),
    Plot.frame({stroke: "black", strokeWidth: 2.5}),
    Plot.axisX({ticks: xTicks, tickFormat: d3.format("d"), tickSize: 14, tickPadding: 16, fontSize: 27, strokeWidth: 2.5, label: null}),
    Plot.axisY({ticks: yTicks, tickFormat: d3.format(".1f"), tickSize: 14, tickPadding: 19, fontSize: 32, strokeWidth: 2.5, label: null})
  ]
});

const svg = d3.select(chart);
const cx = ML + (W - ML - MR) / 2;
svg.append("text").attr("x", cx).attr("y", 85).attr("text-anchor", "middle")
  .attr("font-family", "DejaVu Sans").attr("font-size", 50).attr("fill", "black").text(titleText);
svg.append("text").attr("x", cx).attr("y", 889).attr("text-anchor", "middle")
  .attr("font-family", "DejaVu Sans").attr("font-size", 33).attr("fill", "black").text(xLabelText);

const yl = svg.append("text")
  .attr("transform", `translate(225,${MT + (H - MT - MB) / 2}) rotate(-90)`)
  .attr("text-anchor", "middle").attr("font-family", "DejaVu Sans").attr("font-size", 45).attr("fill", "black");
const parts = [["10", false], ["\u221218", true], [" erg s", false], ["\u22121", true], [" cm", false], ["\u22122", true], [" \u00C5", false], ["\u22121", true]];
let raised = false;
for (const [t, sup] of parts) {
  const ts = yl.append("tspan").text(t);
  if (sup) { ts.attr("font-size", 31.5).attr("dy", raised ? 0 : -18); raised = true; }
  else { ts.attr("dy", raised ? 18 : 0); raised = false; }
}

document.getElementById("chart").appendChild(chart);
</script>
</body></html>
